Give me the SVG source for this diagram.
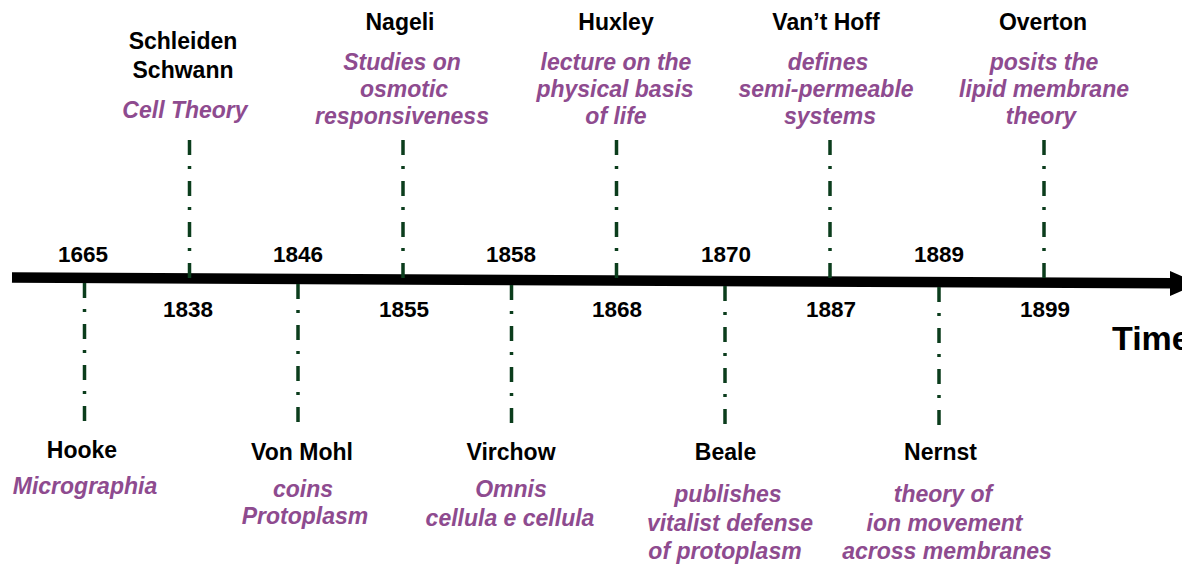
<svg xmlns="http://www.w3.org/2000/svg" width="1182" height="564" viewBox="0 0 1182 564">
<style>
text{font-family:"Liberation Sans",Arial,sans-serif;font-weight:bold;font-size:23px;text-anchor:middle}
.n{fill:#000}
.d{fill:#8e4b8f;font-style:italic}
.y{fill:#000;font-size:22.5px}
.c{stroke:#0b3d1c;stroke-width:3.5;stroke-dasharray:15 11 3 12;fill:none}
</style>
<rect width="1182" height="564" fill="#fff"/>
<g id="axis">
<line x1="12" y1="277.6" x2="1174" y2="283.2" stroke="#000" stroke-width="10.5"/>
<polygon points="1170,271 1198,283.5 1170,296" fill="#000"/>
<text x="1112" y="350" style="font-size:34px;text-anchor:start">Time</text>
</g>
<g id="connectors">
<line class="c" x1="189.5" y1="140" x2="189.5" y2="279"/>
<line class="c" x1="403" y1="140" x2="403" y2="280"/>
<line class="c" x1="616.5" y1="140" x2="616.5" y2="281"/>
<line class="c" x1="830" y1="140" x2="830" y2="282"/>
<line class="c" x1="1044" y1="140" x2="1044" y2="283"/>
<line class="c" x1="84.5" y1="283" x2="84.5" y2="425"/>
<line class="c" x1="298" y1="284" x2="298" y2="425"/>
<line class="c" x1="511.5" y1="285" x2="511.5" y2="425"/>
<line class="c" x1="725" y1="286" x2="725" y2="425"/>
<line class="c" x1="939" y1="287" x2="939" y2="425"/>
</g>
<g id="years">
<text class="y" x="83" y="262">1665</text>
<text class="y" x="298" y="262">1846</text>
<text class="y" x="511" y="262">1858</text>
<text class="y" x="726" y="262">1870</text>
<text class="y" x="939" y="262">1889</text>
<text class="y" x="188" y="317">1838</text>
<text class="y" x="404" y="317">1855</text>
<text class="y" x="617" y="317">1868</text>
<text class="y" x="831" y="317">1887</text>
<text class="y" x="1045" y="317">1899</text>
</g>
<g id="schleiden">
<text class="n" x="183" y="49">Schleiden</text>
<text class="n" x="183" y="78">Schwann</text>
<text class="d" x="185" y="118">Cell Theory</text>
</g>
<g id="nageli">
<text class="n" x="400" y="30">Nageli</text>
<text class="d" x="402" y="70">Studies on</text>
<text class="d" x="404" y="97">osmotic</text>
<text class="d" x="402" y="124">responsiveness</text>
</g>
<g id="huxley">
<text class="n" x="616" y="30">Huxley</text>
<text class="d" x="616" y="70">lecture on the</text>
<text class="d" x="615" y="97">physical basis</text>
<text class="d" x="616" y="124">of life</text>
</g>
<g id="vanthoff">
<text class="n" x="826" y="30">Van’t Hoff</text>
<text class="d" x="828" y="70">defines</text>
<text class="d" x="826" y="97">semi-permeable</text>
<text class="d" x="830" y="124">systems</text>
</g>
<g id="overton">
<text class="n" x="1043" y="30">Overton</text>
<text class="d" x="1044" y="70">posits the</text>
<text class="d" x="1044" y="97">lipid membrane</text>
<text class="d" x="1041" y="124">theory</text>
</g>
<g id="hooke">
<text class="n" x="82" y="458">Hooke</text>
<text class="d" x="85" y="494">Micrographia</text>
</g>
<g id="vonmohl">
<text class="n" x="302" y="460">Von Mohl</text>
<text class="d" x="303" y="497">coins</text>
<text class="d" x="305" y="524">Protoplasm</text>
</g>
<g id="virchow">
<text class="n" x="511" y="460">Virchow</text>
<text class="d" x="511" y="497">Omnis</text>
<text class="d" x="510" y="526">cellula e cellula</text>
</g>
<g id="beale">
<text class="n" x="725.5" y="460">Beale</text>
<text class="d" x="728" y="502">publishes</text>
<text class="d" x="730" y="531">vitalist defense</text>
<text class="d" x="725" y="559">of protoplasm</text>
</g>
<g id="nernst">
<text class="n" x="940.5" y="460">Nernst</text>
<text class="d" x="943" y="502">theory of</text>
<text class="d" x="944.5" y="531">ion movement</text>
<text class="d" x="947" y="559">across membranes</text>
</g>
</svg>
